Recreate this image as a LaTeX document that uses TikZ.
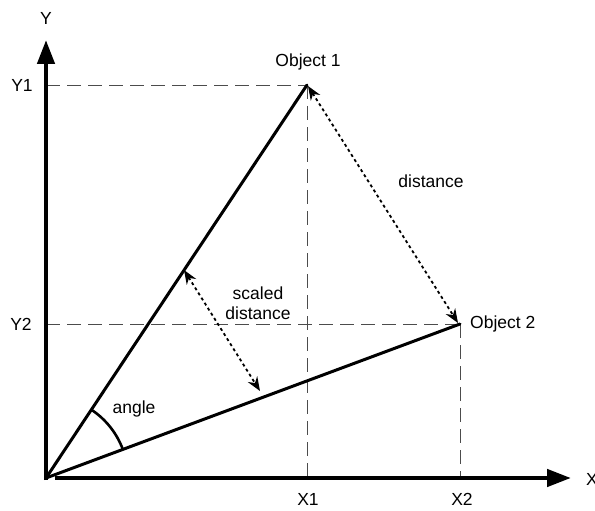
\documentclass[tikz,border=0pt]{standalone}
\usepackage{fontspec}
\setmainfont{Liberation Sans}
\usetikzlibrary{arrows.meta}
\begin{document}
\begin{tikzpicture}[x=1pt,y=-1pt,
  lbl/.style={font=\fontsize{17.5}{20}\selectfont, inner sep=0pt},
  axis/.style={line width=4.5pt, -{Triangle[length=24pt,width=17pt]}},
  ray/.style={line width=3pt},
  guide/.style={line width=0.9pt, draw=black!70, dash pattern=on 14pt off 7pt},
  dist/.style={line width=1.8pt, dash pattern=on 3pt off 3pt, {Stealth[length=14pt,width=11pt]}-{Stealth[length=14pt,width=11pt]}}]
\useasboundingbox (0,0) rectangle (595,511);
\coordinate (O) at (46,478);
\coordinate (Ob) at (46,480);
\coordinate (Ytip) at (46,40);
\coordinate (Xs) at (55,478);
\coordinate (Xtip) at (571,478);
\coordinate (P1) at (307,85);
\coordinate (P2) at (460,324);
\coordinate (Y1a) at (46,85);
\coordinate (Y2a) at (46,324);
\coordinate (X1a) at (307,478);
\coordinate (X2a) at (460,478);
\coordinate (S1) at (184,270);
\coordinate (S2) at (260,391);
\coordinate (D1) at (308,86);
\coordinate (D2) at (458,323);
% guides
\draw[guide] (Y1a) -- (P1);
\draw[guide] (P1) -- (X1a);
\draw[guide] (Y2a) -- (P2);
\draw[guide] (P2) -- (X2a);
% axes
\draw[axis] (Ob) -- (Ytip);
\draw[axis] (Xs) -- (Xtip);
% rays
\draw[ray, line cap=round] (O) -- (P1);
\draw[ray, line cap=round] (O) -- (P2);
% angle arc
\draw[line width=2.6pt] ([shift={(-20.4:82)}]O) arc[start angle=-20.4, end angle=-56.4, radius=82];
% distance arrows
\draw[dist] (D1) -- (D2);
\draw[dist] (S1) -- (S2);
% labels
\node[lbl] (ly) at (46,18) {Y};
\node[lbl] (lx) at (592,479) {X};
\node[lbl] (ly1) at (22,85) {Y1};
\node[lbl] (ly2) at (21,324) {Y2};
\node[lbl] (lx1) at (308,499) {X1};
\node[lbl] (lx2) at (462,499) {X2};
\node[lbl] (lo1) at (308,62) {Object 1};
\node[lbl, anchor=west] (lo2) at (470,324) {Object 2};
\node[lbl] (ld) at (431,181) {distance};
\node[lbl, align=center] (ls) at (258,303) {scaled\\distance};
\node[lbl] (la) at (134,409) {angle};
\end{tikzpicture}
\end{document}
